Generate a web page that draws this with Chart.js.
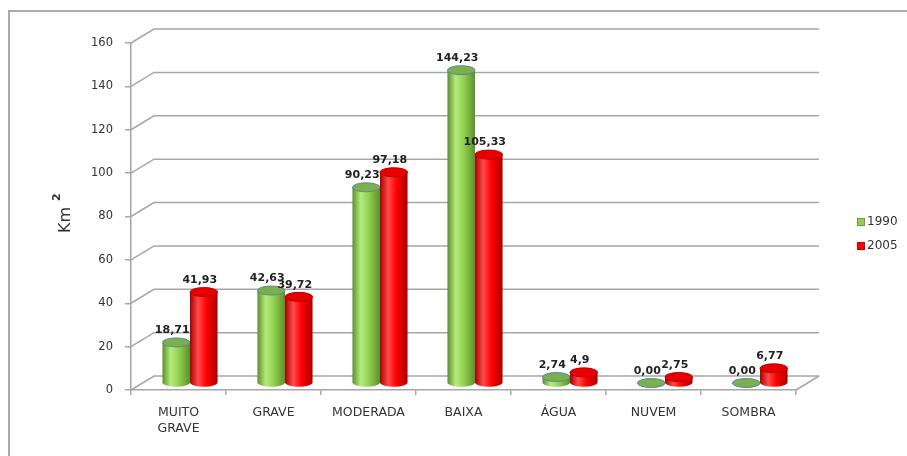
<!DOCTYPE html>
<html>
<head>
<meta charset="utf-8">
<script src="https://cdn.jsdelivr.net/npm/chart.js@4/dist/chart.umd.min.js"></script>
<style>
html, body { margin: 0; padding: 0; background: #fff; }
#wrap { position: relative; width: 907px; height: 456px; overflow: hidden; }
#frame { position: absolute; left: 8px; top: 10px; width: 910px; height: 470px;
         border-left: 2px solid #aaa; border-top: 2px solid #aaa; box-sizing: border-box; }
canvas { position: absolute; left: 0; top: 0; }
</style>
</head>
<body>
<div id="wrap">
  <div id="frame"></div>
  <canvas id="myChart" width="907" height="456"></canvas>
</div>
<script>
// data
const categories = [['MUITO', 'GRAVE'], 'GRAVE', 'MODERADA', 'BAIXA', 'ÁGUA', 'NUVEM', 'SOMBRA'];
const values1990 = [18.71, 42.63, 90.23, 144.23, 2.74, 0, 0];
const values2005 = [41.93, 39.72, 97.18, 105.33, 4.9, 2.75, 6.77];
const labels1990 = ['18,71', '42,63', '90,23', '144,23', '2,74', '0,00', '0,00'];
const labels2005 = ['41,93', '39,72', '97,18', '105,33', '4,9', '2,75', '6,77'];
const yMax = 160;
const yStep = 20;

// depth of the fake 3d box
const DX = 23, DY = -14;

const colors = [
  { light: '#b4ec7c', mid: '#92d050', dark: '#5b8f2c', top: '#7cb04a', rim: '#5a86a6', box: '#92d050' },
  { light: '#ff4a4a', mid: '#ff0000', dark: '#a80000', top: '#e80000', rim: '#b80000', box: '#ff0000' }
];
const valueLabels = [labels1990, labels2005];

function cylinder(ctx, cx, top, base, rx, ry, c) {
  const g = ctx.createLinearGradient(cx - rx, 0, cx + rx, 0);
  g.addColorStop(0, c.dark);
  g.addColorStop(0.3, c.light);
  g.addColorStop(0.6, c.mid);
  g.addColorStop(1, c.dark);
  ctx.fillStyle = g;
  ctx.beginPath();
  ctx.moveTo(cx - rx, top);
  ctx.lineTo(cx - rx, base);
  ctx.ellipse(cx, base, rx, ry, 0, Math.PI, 0, true);
  ctx.lineTo(cx + rx, top);
  ctx.closePath();
  ctx.fill();
  // top cap
  ctx.beginPath();
  ctx.ellipse(cx, top, rx, ry, 0, 0, Math.PI * 2);
  ctx.fillStyle = c.top;
  ctx.fill();
  ctx.lineWidth = 1;
  ctx.strokeStyle = c.rim;
  ctx.stroke();
}

const box3d = {
  id: 'box3d',
  beforeDatasetsDraw(chart) {
    const { ctx, chartArea: a, scales: { y } } = chart;
    ctx.save();
    ctx.strokeStyle = '#a6a6a6';
    ctx.lineWidth = 1.5;
    y.ticks.forEach(t => {
      const py = y.getPixelForValue(t.value);
      ctx.beginPath();
      ctx.moveTo(a.left, py);
      ctx.lineTo(a.left + DX, py + DY);
      ctx.lineTo(a.right + DX, py + DY);
      ctx.stroke();
    });
    ctx.beginPath();
    ctx.moveTo(a.right, a.bottom);
    ctx.lineTo(a.right + DX, a.bottom + DY);
    ctx.stroke();
    ctx.restore();
  },
  beforeDatasetDraw() {
    return false; // cylinders are drawn below instead
  },
  afterDatasetsDraw(chart) {
    const ctx = chart.ctx;
    ctx.save();
    const n = chart.data.labels.length;
    for (let i = 0; i < n; i++) {
      chart.data.datasets.forEach((ds, d) => {
        const el = chart.getDatasetMeta(d).data[i];
        const rx = el.width / 2;
        const cx = el.x + DX / 2;
        cylinder(ctx, cx, el.y + DY / 2, el.base + DY / 2, rx, 4.5, colors[d]);
      });
    }
    ctx.font = 'bold 11px "DejaVu Sans"';
    ctx.fillStyle = '#222';
    ctx.textAlign = 'center';
    ctx.textBaseline = 'middle';
    chart.data.datasets.forEach((ds, d) => {
      chart.getDatasetMeta(d).data.forEach((el, i) => {
        ctx.fillText(valueLabels[d][i], el.x + DX / 2 - 4, el.y + DY / 2 - 12);
      });
    });
    ctx.restore();
  },
  afterDraw(chart) {
    const ctx = chart.ctx;
    ctx.save();
    // y axis title with superscript
    ctx.translate(64, 215);
    ctx.rotate(-Math.PI / 2);
    ctx.fillStyle = '#333';
    ctx.textBaseline = 'alphabetic';
    ctx.textAlign = 'left';
    ctx.font = '16px "DejaVu Sans"';
    const w = ctx.measureText('Km').width;
    ctx.fillText('Km', -w / 2 - 5, 6);
    ctx.font = 'bold 11px "DejaVu Sans"';
    ctx.fillText('2', w / 2 + 1, -4);
    ctx.restore();

    // legend
    ctx.save();
    ctx.font = '12px "DejaVu Sans"';
    ctx.textBaseline = 'middle';
    ctx.textAlign = 'left';
    chart.data.datasets.forEach((ds, d) => {
      const ly = 222 + d * 24;
      ctx.fillStyle = colors[d].box;
      ctx.fillRect(857, ly - 4, 8, 8);
      ctx.strokeStyle = d === 0 ? '#6f9a48' : '#d00000';
      ctx.lineWidth = 1;
      ctx.strokeRect(857.5, ly - 3.5, 7, 7);
      ctx.fillStyle = '#333';
      ctx.fillText(ds.label, 867, ly);
    });
    ctx.restore();
  }
};

Chart.defaults.font.family = '"DejaVu Sans"';
Chart.defaults.color = '#333';

const ctx = document.getElementById('myChart').getContext('2d');
const myChart = new Chart(ctx, {
  type: 'bar',
  data: {
    labels: categories,
    datasets: [
      { label: '1990', data: values1990, backgroundColor: colors[0].box },
      { label: '2005', data: values2005, backgroundColor: colors[1].box }
    ]
  },
  options: {
    responsive: false,
    animation: false,
    categoryPercentage: 0.58,
    barPercentage: 1,
    layout: { padding: { top: 43, right: 111, left: 0, bottom: 0 } },
    plugins: { legend: { display: false }, tooltip: { enabled: false } },
    scales: {
      x: {
        afterFit: s => { s.height = 66; },
        grid: { drawOnChartArea: false, tickLength: 5, tickColor: '#a6a6a6', lineWidth: 1.5 },
        border: { color: '#a6a6a6', width: 1.5 },
        ticks: { padding: 10, font: { size: 12.5, lineHeight: 1.25 }, maxRotation: 0, autoSkip: false }
      },
      y: {
        min: 0,
        max: yMax,
        afterFit: s => { s.width = 131; },
        grid: { drawOnChartArea: false, tickLength: 6, tickColor: '#a6a6a6', lineWidth: 1.5 },
        border: { color: '#a6a6a6', width: 1.5 },
        ticks: { stepSize: yStep, padding: 12, font: { size: 11.5 } }
      }
    }
  },
  plugins: [box3d]
});
</script>
</body>
</html>
